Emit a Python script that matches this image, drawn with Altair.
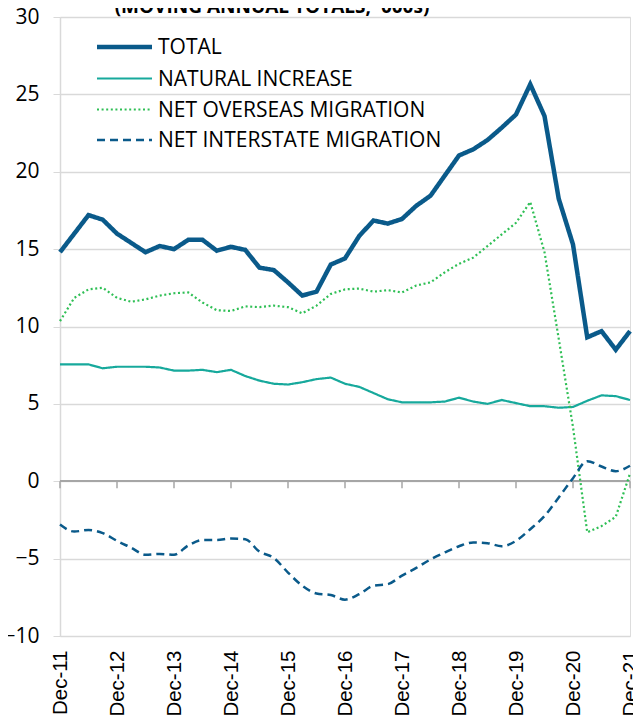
import altair as alt
import pandas as pd

# ---- data (quarterly, moving annual totals, '000s) ----
months = ["Dec", "Mar", "Jun", "Sep"]
quarters = []
for i in range(41):
    m = months[i % 4]
    yr = 11 + (i + 3) // 4 if m != "Dec" else 11 + i // 4
    quarters.append(f"{m}-{yr:02d}")
year_labels = [f"Dec-{y}" for y in range(11, 22)]

total = [14.8, 16.0, 17.2, 16.9, 16.0, 15.4, 14.8, 15.2, 15.0, 15.6,
         15.6, 14.9, 15.15, 14.95, 13.8, 13.65, 12.85, 12.0, 12.25, 14.0,
         14.4, 15.85, 16.85, 16.65, 16.95, 17.8, 18.45, 19.75, 21.05, 21.45,
         22.05, 22.85, 23.7, 25.65, 23.6, 18.25, 15.3, 9.3, 9.7, 8.5, 9.7]
natural = [7.55, 7.55, 7.55, 7.3, 7.4, 7.4, 7.4, 7.35, 7.15, 7.15,
           7.2, 7.05, 7.2, 6.8, 6.5, 6.3, 6.25, 6.4, 6.6, 6.7,
           6.3, 6.1, 5.7, 5.3, 5.1, 5.1, 5.1, 5.15, 5.4, 5.15,
           5.0, 5.25, 5.05, 4.85, 4.85, 4.75, 4.8, 5.2, 5.55, 5.5, 5.25]
overseas = [10.35, 11.85, 12.4, 12.5, 11.85, 11.6, 11.75, 12.0, 12.15, 12.2,
            11.55, 11.05, 11.0, 11.3, 11.25, 11.35, 11.25, 10.85, 11.35, 12.1,
            12.4, 12.45, 12.25, 12.35, 12.2, 12.65, 12.85, 13.5, 14.05, 14.45,
            15.2, 15.95, 16.7, 18.05, 14.8, 9.2, 3.5, -3.3, -2.9, -2.3, 0.5]
interstate = [-2.8, -3.25, -3.15, -3.35, -3.85, -4.3, -4.75, -4.7, -4.75, -4.15,
              -3.8, -3.8, -3.7, -3.75, -4.55, -4.95, -5.9, -6.75, -7.25, -7.35,
              -7.65, -7.3, -6.75, -6.65, -6.1, -5.6, -5.05, -4.6, -4.2, -3.95,
              -4.0, -4.2, -3.85, -3.1, -2.25, -1.05, 0.2, 1.3, 0.95, 0.65, 1.0]

series_names = ["TOTAL", "NATURAL INCREASE", "NET OVERSEAS MIGRATION", "NET INTERSTATE MIGRATION"]
series_values = [total, natural, overseas, interstate]
series_colors = ["#0A5A8A", "#17A99C", "#2FBF55", "#0A5A8A"]
series_widths = [4.5, 2.2, 2.2, 2.5]
series_dash = [[1, 0], [1, 0], [2, 2.6], [8, 5]]
series_interp = ["linear", "linear", "linear", "monotone"]

title_text = "(MOVING ANNUAL TOTALS, '000s)"

FONT = "Open Sans"
x_scale = alt.Scale(type="point", domain=quarters, padding=0)
y_scale = alt.Scale(domain=[-10, 30], nice=False, zero=False)


def xq(axis=None):
    if axis is None:
        return alt.X("quarter:O", sort=quarters, scale=x_scale, title=None)
    return alt.X("quarter:O", sort=quarters, scale=x_scale, title=None, axis=axis)


x_axis = alt.Axis(values=year_labels, labelAngle=270, labelFont="Liberation Sans",
                  labelFontSize=20.5, labelColor="#000000", labelPadding=14,
                  ticks=False, domain=False, grid=False)

layers = []

# base with axes / gridlines
base_df = pd.DataFrame({"quarter": quarters, "v": total})
axis_layer = alt.Chart(base_df).mark_line(opacity=0).encode(
    x=xq(x_axis),
    y=alt.Y("v:Q", scale=y_scale, title=None,
            axis=alt.Axis(values=list(range(-10, 31, 5)), grid=True, gridColor="#D9D9D9",
                          gridWidth=1.3, domainColor="#D9D9D9", domainWidth=1.5,
                          tickColor="#D9D9D9", tickSize=7, labelFont=FONT, labelFontSize=21,
                          labelColor="#000000", labelPadding=14)),
)
layers.append(axis_layer)

# zero axis line with yearly ticks
zero_layer = alt.Chart(base_df).mark_rule(color="#A6A6A6", strokeWidth=1.6).encode(
    y=alt.datum(0)
)
layers.append(zero_layer)
tick_df = pd.DataFrame({"quarter": year_labels})
tick_layer = alt.Chart(tick_df).mark_rule(color="#A6A6A6", strokeWidth=1.5).encode(
    x=xq(),
    y=alt.datum(0),
    y2=alt.datum(-0.45),
)
layers.append(tick_layer)

for name, vals, col, w, dash, interp in zip(series_names, series_values, series_colors,
                                            series_widths, series_dash, series_interp):
    df = pd.DataFrame({"quarter": quarters, "v": vals})
    layers.append(
        alt.Chart(df).mark_line(color=col, strokeWidth=w, strokeDash=dash,
                                interpolate=interp, strokeJoin="miter").encode(
            x=xq(), y=alt.Y("v:Q", scale=y_scale))
    )

# manual legend
leg_y = [30, 61.5, 92.5, 123]
for name, col, w, dash, ly in zip(series_names, series_colors, series_widths, series_dash, leg_y):
    ldf = pd.DataFrame({"label": [name]})
    layers.append(
        alt.Chart(ldf).mark_rule(color=col, strokeWidth=w, strokeDash=dash).encode(
            x=alt.value(37), x2=alt.value(92), y=alt.value(ly))
    )
    layers.append(
        alt.Chart(ldf).mark_text(font=FONT, fontSize=21, align="left", baseline="middle",
                                 color="#000000", dy=1).encode(
            x=alt.value(98), y=alt.value(ly), text="label:N")
    )

# title (partially cut at the top)
tdf = pd.DataFrame({"t": [title_text]})
layers.append(
    alt.Chart(tdf).mark_text(font=FONT, fontSize=19, fontWeight="bold", align="center",
                             baseline="alphabetic", color="#000000").encode(
        x=alt.value(212), y=alt.value(-4), text="t:N")
)

chart = alt.layer(*layers).properties(
    width=570, height=619,
    autosize=alt.AutoSizeParams(type="none"),
    padding={"left": 52, "top": 9, "right": 3, "bottom": 86},
).configure_view(stroke="#D9D9D9", strokeWidth=1.5).configure(background="#FFFFFF")

chart.save("out.html", embed_options={"renderer": "svg", "actions": False})
